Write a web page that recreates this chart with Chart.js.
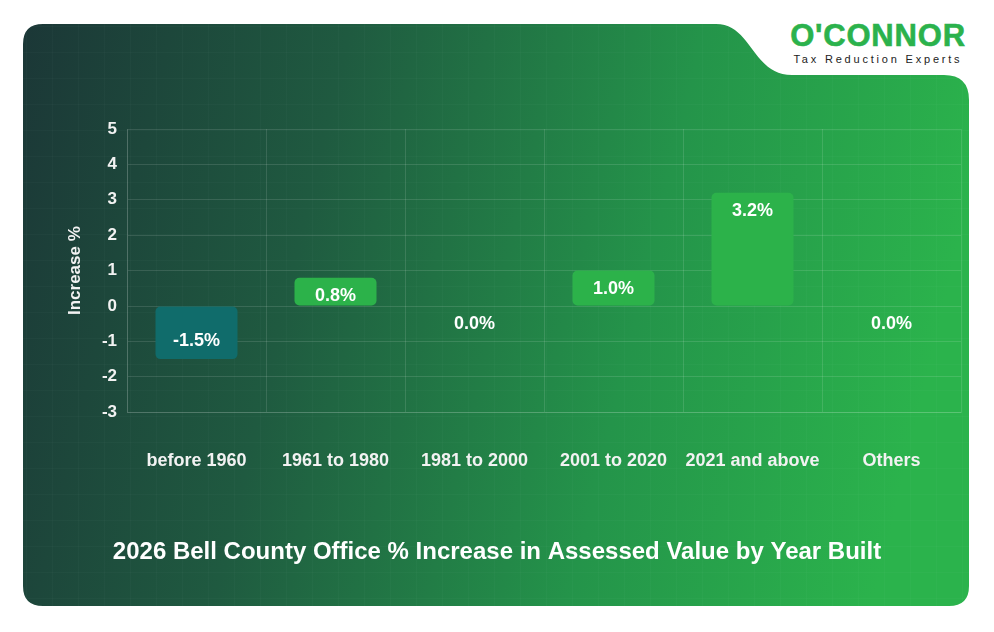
<!DOCTYPE html>
<html>
<head>
<meta charset="utf-8">
<script src="https://cdn.jsdelivr.net/npm/chart.js@4"></script>
<style>
    html, body { margin: 0; padding: 0; background: #ffffff; }
    #wrap { position: relative; width: 994px; height: 632px; overflow: hidden; }
    #card { position: absolute; left: 0; top: 0; }
    #chart { position: absolute; left: 0; top: 0; }
    .logo { position: absolute; left: 780px; top: 19px; width: 196px; text-align: center; font-family: "Liberation Sans", Arial, sans-serif; }
    .logo .name { color: #2bb24c; font-weight: bold; font-size: 31px; line-height: 34px; letter-spacing: 0.8px; -webkit-text-stroke: 0.6px #2bb24c; }
    .logo .tag { color: #222; font-size: 11px; line-height: 13px; letter-spacing: 2.8px; margin-top: 0px; }
</style>
</head>
<body>
<div id="wrap">
    <svg id="card" width="994" height="632" xmlns="http://www.w3.org/2000/svg">
        <defs>
            <linearGradient id="bg" x1="0" y1="0" x2="1" y2="0.15">
                <stop offset="0" stop-color="#1b3436"/>
                <stop offset="0.35" stop-color="#1f5a40"/>
                <stop offset="0.7" stop-color="#24944a"/>
                <stop offset="1" stop-color="#2bb34c"/>
            </linearGradient>
            <pattern id="grid" width="26" height="26" patternUnits="userSpaceOnUse">
                <path d="M 26 0 L 0 0 0 26" fill="none" stroke="rgba(255,255,255,0.035)" stroke-width="1"/>
            </pattern>
            <clipPath id="shape">
                <path d="M 43 24 L 716 24 C 752 24 752 75 792 75 L 944 75 Q 969 75 969 100 L 969 586 Q 969 606 949 606 L 43 606 Q 23 606 23 586 L 23 44 Q 23 24 43 24 Z"/>
            </clipPath>
        </defs>
        <g clip-path="url(#shape)">
            <rect x="0" y="0" width="994" height="632" fill="url(#bg)"/>
            <rect x="0" y="0" width="994" height="632" fill="url(#grid)"/>
        </g>
    </svg>
    <div class="logo">
        <div class="name">O'CONNOR</div>
        <div class="tag">Tax Reduction Experts</div>
    </div>
    <canvas id="chart" width="994" height="632"></canvas>
</div>

<script>
// chart data
const categories = ['before 1960', '1961 to 1980', '1981 to 2000', '2001 to 2020', '2021 and above', 'Others'];
const increases = [-1.5, 0.8, 0.0, 1.0, 3.2, 0.0];
const yTicks = [-3, -2, -1, 0, 1, 2, 3, 4, 5];

const posColor = '#2cb24a';
const negColor = '#106c6b';
const gridColor = 'rgba(255, 255, 255, 0.12)';
const textColor = '#f2f2f2';
const fontFamily = '"Liberation Sans", Arial, sans-serif';

// draws the value inside each bar
const valueLabels = {
    id: 'valueLabels',
    afterDatasetsDraw(chart) {
        const ctx = chart.ctx;
        const meta = chart.getDatasetMeta(0);
        ctx.save();
        ctx.fillStyle = '#ffffff';
        ctx.font = 'bold 18px ' + fontFamily;
        ctx.textAlign = 'center';
        ctx.textBaseline = 'middle';
        meta.data.forEach((bar, i) => {
            const v = increases[i];
            const y = v >= 0 ? bar.y + 18 : bar.y - 18;
            ctx.fillText(v.toFixed(1) + '%', bar.x, y);
        });
        ctx.restore();
    }
};

new Chart(document.getElementById('chart').getContext('2d'), {
    type: 'bar',
    data: {
        labels: categories,
        datasets: [{
            data: increases,
            backgroundColor: increases.map(v => v < 0 ? negColor : posColor),
            borderWidth: 0,
            borderRadius: 5,
            borderSkipped: false,
            categoryPercentage: 1,
            barPercentage: 0.59
        }]
    },
    options: {
        responsive: false,
        animation: false,
        layout: {
            padding: { left: 33, right: 33, top: 129, bottom: 65 }
        },
        scales: {
            x: {
                grid: { color: gridColor, drawTicks: false },
                border: { color: gridColor },
                ticks: {
                    color: textColor,
                    padding: 38,
                    maxRotation: 0,
                    font: { family: fontFamily, size: 18, weight: 'bold' }
                },
                afterFit: (scale) => { scale.height = 126; }
            },
            y: {
                min: -3,
                max: 5,
                afterBuildTicks: (scale) => { scale.ticks = yTicks.map(v => ({ value: v })); },
                grid: { color: gridColor, drawTicks: false },
                border: { color: gridColor },
                ticks: {
                    color: textColor,
                    padding: 10,
                    font: { family: fontFamily, size: 17, weight: 'bold' }
                },
                title: {
                    display: true,
                    text: 'Increase %',
                    color: textColor,
                    padding: { top: 32, bottom: 0 },
                    font: { family: fontFamily, size: 17, weight: 'bold' }
                },
                afterFit: (scale) => { scale.width = 94; }
            }
        },
        plugins: {
            legend: { display: false },
            tooltip: { enabled: false },
            title: {
                display: true,
                position: 'bottom',
                text: '2026 Bell County Office % Increase in Assessed Value by Year Built',
                color: '#ffffff',
                padding: 0,
                font: { family: fontFamily, size: 24, weight: 'bold', lineHeight: 1.2 }
            }
        }
    },
    plugins: [valueLabels]
});
</script>
</body>
</html>
